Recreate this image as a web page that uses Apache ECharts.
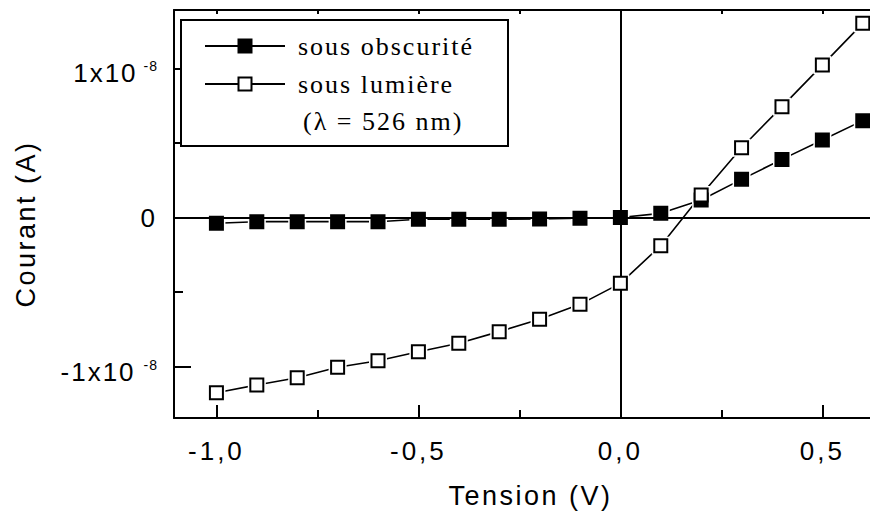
<!DOCTYPE html>
<html>
<head>
<meta charset="utf-8">
<script src="https://cdn.jsdelivr.net/npm/echarts@6/dist/echarts.min.js"></script>
<style>
html,body{margin:0;padding:0;background:#fff;}
#chart{width:870px;height:517px;}
#chart svg text{letter-spacing:3px;}
</style>
</head>
<body>
<div id="chart"></div>
<script>
// ---- data (current in units of 1e-8 A) ----
const voltage = [-1.0,-0.9,-0.8,-0.7,-0.6,-0.5,-0.4,-0.3,-0.2,-0.1,0.0,0.1,0.2,0.3,0.4,0.5,0.6];
const darkCurrent = [-0.039,-0.028,-0.028,-0.028,-0.028,-0.012,-0.012,-0.012,-0.010,-0.005,0.0,0.028,0.117,0.256,0.390,0.520,0.650];
const lightCurrent = [-1.176,-1.124,-1.075,-1.005,-0.961,-0.901,-0.844,-0.766,-0.683,-0.583,-0.442,-0.189,0.151,0.468,0.744,1.023,1.303];
const seriesNames = ['sous obscurité','sous lumière'];
const legendNote = '(λ = 526 nm)';
const xMajor = [-1.0,-0.5,0.0,0.5];
const xMajorLabels = ['-1,0','-0,5','0,0','0,5'];
const xMinor = [-0.75,-0.25,0.25];
const yMajor = [-1,0,1];
const yMinor = [-0.5,0.5];
const xTitle = 'Tension (V)';
const yTitle = 'Courant (A)';

const SANS = 'Liberation Sans, Arial, sans-serif';
const SERIF = 'Liberation Serif, Times New Roman, serif';

const chart = echarts.init(document.getElementById('chart'), null, {renderer:'svg'});

const xMin = -1.105, xMax = 0.66;
const yMin = -1.3456, yMax = 1.3926;

function xLab(v){
  const i = xMajor.findIndex(m => Math.abs(m - v) < 1e-9);
  return i >= 0 ? xMajorLabels[i] : '';
}
function yLab(v){
  if (Math.abs(v) < 1e-9) return '{z|0}';
  if (v > 0) return '{a|1x10}{s|-8}';
  return '{a|-1x10}{t|-8}';
}

const blackLine = {color:'#000', width:2};
const darkData = voltage.map((v,i)=>[v, darkCurrent[i]]);
const lightData = voltage.map((v,i)=>[v, lightCurrent[i]]);

const option = {
  animation:false,
  backgroundColor:'#fff',
  grid:{left:174, right:-17, top:10, bottom:99, containLabel:false, outerBoundsMode:'none'},
  xAxis:[
    {type:'value', position:'bottom', min:xMin, max:xMax,
     axisLine:{show:true, onZero:false, lineStyle:blackLine},
     axisTick:{show:true, inside:true, length:13, lineStyle:{color:'#000', width:2}, customValues:xMajor},
     axisLabel:{show:true, customValues:xMajor, formatter:xLab, margin:20, color:'#000', fontSize:26, fontFamily:SANS},
     splitLine:{show:false},
     name:xTitle, nameLocation:'middle', nameGap:64,
     nameTextStyle:{color:'#000', fontSize:27, fontFamily:SANS}},
    {type:'value', position:'bottom', min:xMin, max:xMax,
     axisLine:{show:false, onZero:false},
     axisTick:{show:true, inside:true, length:8, lineStyle:{color:'#000', width:2}, customValues:xMinor},
     axisLabel:{show:false}, splitLine:{show:false}},
    {type:'value', position:'top', min:xMin, max:xMax,
     axisLine:{show:true, onZero:false, lineStyle:blackLine},
     axisTick:{show:true, inside:true, length:4, lineStyle:{color:'#000', width:2}, customValues:xMajor.concat(xMinor)},
     axisLabel:{show:false}, splitLine:{show:false}}
  ],
  yAxis:[
    {type:'value', position:'left', min:yMin, max:yMax,
     axisLine:{show:true, onZero:false, lineStyle:blackLine},
     axisTick:{show:true, inside:true, length:17, lineStyle:{color:'#000', width:2}, customValues:yMajor},
     axisLabel:{show:true, customValues:yMajor, formatter:yLab, margin:16, color:'#000',
       rich:{
         z:{fontSize:26, fontFamily:SANS, color:'#000'},
         a:{fontSize:26, fontFamily:SANS, color:'#000', lineHeight:26, padding:[10,0,0,0]},
         s:{fontSize:14, fontFamily:SANS, color:'#000', lineHeight:14, verticalAlign:'top', padding:[4,0,0,8]},
         t:{fontSize:14, fontFamily:SANS, color:'#000', lineHeight:14, verticalAlign:'top', padding:[4,0,0,10]}
       }},
     splitLine:{show:false},
     name:yTitle, nameLocation:'middle', nameGap:135, nameRotate:90,
     nameTextStyle:{color:'#000', fontSize:27, fontFamily:SANS, padding:[0,20,0,0]}},
    {type:'value', position:'left', min:yMin, max:yMax,
     axisLine:{show:false, onZero:false},
     axisTick:{show:true, inside:true, length:9, lineStyle:{color:'#000', width:2}, customValues:yMinor},
     axisLabel:{show:false}, splitLine:{show:false}}
  ],
  series:[
    // connecting lines
    {type:'line', name:seriesNames[0] + ' (ligne)', z:2, silent:true, data:darkData,
     symbol:'none', lineStyle:{color:'#000', width:1.6}},
    {type:'line', name:seriesNames[1] + ' (ligne)', z:2, silent:true, data:lightData,
     symbol:'none', lineStyle:{color:'#000', width:1.6}},
    // white halo around markers (gap between line and marker)
    {type:'line', name:seriesNames[0] + ' (halo)', z:3, silent:true, data:darkData,
     symbol:'rect', symbolSize:18, showAllSymbol:true,
     itemStyle:{color:'#fff', borderWidth:0}, lineStyle:{width:0, opacity:0}},
    {type:'line', name:seriesNames[1] + ' (halo)', z:3, silent:true, data:lightData,
     symbol:'rect', symbolSize:18, showAllSymbol:true,
     itemStyle:{color:'#fff', borderWidth:0}, lineStyle:{width:0, opacity:0}},
    // zero lines
    {type:'line', name:'zero', data:[], z:4, silent:true,
     markLine:{silent:true, symbol:['none','none'], label:{show:false},
       lineStyle:{color:'#000', width:2, type:'solid'},
       data:[{xAxis:0},{yAxis:0}]}},
    // markers
    {type:'line', name:seriesNames[0], z:5, data:darkData,
     symbol:'rect', symbolSize:13, showAllSymbol:true,
     itemStyle:{color:'#000', borderColor:'#000', borderWidth:2},
     lineStyle:{width:0, opacity:0}},
    {type:'line', name:seriesNames[1], z:6, data:lightData,
     symbol:'rect', symbolSize:13, showAllSymbol:true,
     itemStyle:{color:'#fff', borderColor:'#000', borderWidth:2},
     lineStyle:{width:0, opacity:0}}
  ],
  graphic:[
    {type:'rect', z:100, shape:{x:181, y:20, width:327, height:126},
     style:{fill:'#fff', stroke:'#000', lineWidth:2}},
    {type:'line', z:101, shape:{x1:205, y1:46, x2:285, y2:46}, style:{stroke:'#000', lineWidth:2}},
    {type:'rect', z:102, shape:{x:238.5, y:39.5, width:13, height:13}, style:{fill:'#000', stroke:'#000', lineWidth:2}},
    {type:'text', z:101, x:298, y:46, style:{text:seriesNames[0], font:'26px ' + SERIF, fill:'#000', verticalAlign:'middle', align:'left'}},
    {type:'line', z:101, shape:{x1:205, y1:84, x2:285, y2:84}, style:{stroke:'#000', lineWidth:2}},
    {type:'rect', z:102, shape:{x:238.5, y:77.5, width:13, height:13}, style:{fill:'#fff', stroke:'#000', lineWidth:2}},
    {type:'text', z:101, x:298, y:84, style:{text:seriesNames[1], font:'26px ' + SERIF, fill:'#000', verticalAlign:'middle', align:'left'}},
    {type:'text', z:101, x:303, y:121, style:{text:legendNote, font:'26px ' + SERIF, fill:'#000', verticalAlign:'middle', align:'left'}}
  ]
};
chart.setOption(option);

function spaceText(){
  document.querySelectorAll('#chart svg text').forEach(t => {
    const cs = getComputedStyle(t);
    const fs = parseFloat(cs.fontSize);
    const ff = cs.fontFamily || '';
    const txt = t.textContent || '';
    if (fs < 18) t.style.letterSpacing = '1px';
    else if (/x10/.test(txt)) t.style.letterSpacing = '2px';
    else if (/Serif/i.test(ff) && !/Sans/i.test(ff)) t.style.letterSpacing = '2px';
    else if (fs >= 27) t.style.letterSpacing = '2.5px';
    else t.style.letterSpacing = '3px';
  });
}
spaceText();
chart.on('finished', spaceText);
</script>
</body>
</html>
